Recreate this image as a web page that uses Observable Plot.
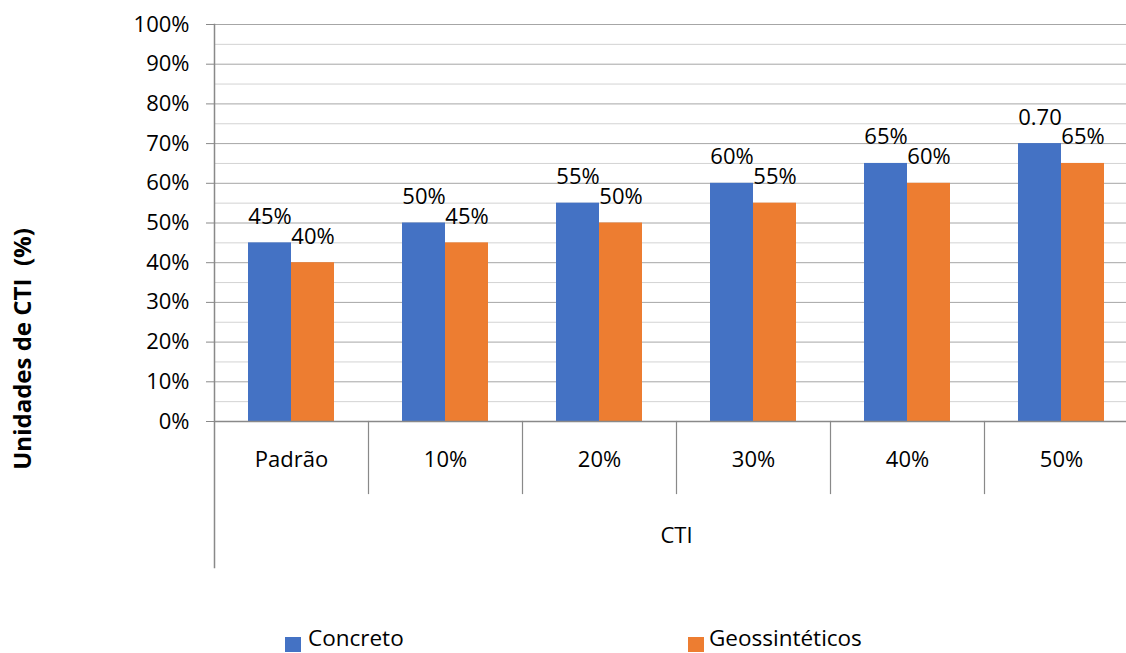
<!DOCTYPE html>
<html><head><meta charset="utf-8">
<script src="https://cdn.jsdelivr.net/npm/d3@7"></script>
<script src="https://cdn.jsdelivr.net/npm/@observablehq/plot@0.6"></script>
<style>
body{margin:0;background:#fff;font-family:"Open Sans",sans-serif;}
#chart{position:relative;width:1126px;height:653px;overflow:hidden}
#legend{position:absolute;top:622px;left:0;width:1126px;height:31px}
.sw{position:absolute;top:15px;width:16px;height:15px}
.lt{position:absolute;top:5px;font-size:22.5px;line-height:22px;color:#000;white-space:nowrap}
</style></head>
<body>
<div id="chart"></div>
<script>
const categories = ["Padrão","10%","20%","30%","40%","50%"];
const series = ["Concreto","Geossintéticos"];
const colors = ["#4472C4","#ED7D31"];
const concreto = [0.45,0.50,0.55,0.60,0.65,0.70];
const geossinteticos = [0.40,0.45,0.50,0.55,0.60,0.65];
const concretoLabels = ["45%","50%","55%","60%","65%","0.70"];
const geossinteticosLabels = ["40%","45%","50%","55%","60%","65%"];
const yTicks = [0,0.1,0.2,0.3,0.4,0.5,0.6,0.7,0.8,0.9,1];
const yTickLabels = ["0%","10%","20%","30%","40%","50%","60%","70%","80%","90%","100%"];
const yMinorTicks = [0.05,0.15,0.25,0.35,0.45,0.55,0.65,0.75,0.85,0.95];
const xTitle = "CTI";
const yTitle = "Unidades de CTI  (%)";

const rows = categories.flatMap((c,i)=>[
  {cat:c, series:series[0], value:concreto[i], label:concretoLabels[i]},
  {cat:c, series:series[1], value:geossinteticos[i], label:geossinteticosLabels[i]}
]);

const axisColor = "#898989";
const plot = Plot.plot({
  width:1126, height:622,
  marginLeft:212, marginTop:24, marginBottom:201, marginRight:0,
  style:{fontFamily:"Open Sans, sans-serif", fontSize:"22px", color:"#000", background:"#fff", overflow:"visible"},
  fx:{domain:categories, range:[212,1139], padding:0},
  x:{domain:series, paddingInner:0, paddingOuter:0.76, axis:null},
  y:{domain:[0,1], range:[421,24]},
  color:{domain:series, range:colors},
  marks:[
    Plot.gridY({ticks:yMinorTicks, stroke:"#d3d3d3", strokeOpacity:1}),
    Plot.gridY({ticks:yTicks, stroke:"#a6a6a6", strokeOpacity:1}),
    Plot.barY(rows,{fx:"cat", x:"series", y:"value", fill:"series"}),
    Plot.text(rows,{fx:"cat", x:"series", y:"value", text:"label", lineAnchor:"bottom", dy:-19, fontSize:22, fill:"#000"}),
    Plot.ruleY([0],{stroke:axisColor, strokeWidth:1.5}),
    Plot.axisY({ticks:yTicks, tickFormat:(d,i)=>yTickLabels[i], tickSize:8, tickPadding:17, stroke:axisColor, label:null, fontSize:22}),
    Plot.frame({anchor:"left", facetAnchor:"left", insetBottom:-146, stroke:axisColor, strokeWidth:1.5}),
    Plot.frame({anchor:"right", insetTop:397, insetBottom:-72, stroke:axisColor, strokeWidth:1.2}),
    Plot.axisFx({anchor:"bottom", tickSize:0, tickPadding:30, label:xTitle, labelOffset:121, fontSize:22}),
    Plot.text([yTitle],{text:d=>d, facet:"super", frameAnchor:"left", textAnchor:"middle", rotate:-90, dx:-191, dy:126, fontWeight:"bold", fontSize:24, fill:"#000"})
  ]
});
const chart = document.getElementById("chart");
chart.appendChild(plot);

const legend = document.createElement("div");
legend.id = "legend";
const legendX = [[285,308],[688,709]];
series.forEach((s,i)=>{
  const sw = document.createElement("div");
  sw.className = "sw"; sw.style.left = legendX[i][0]+"px"; sw.style.background = colors[i];
  const t = document.createElement("div");
  t.className = "lt"; t.style.left = legendX[i][1]+"px"; t.textContent = s;
  legend.appendChild(sw); legend.appendChild(t);
});
chart.appendChild(legend);
</script>
</body></html>
